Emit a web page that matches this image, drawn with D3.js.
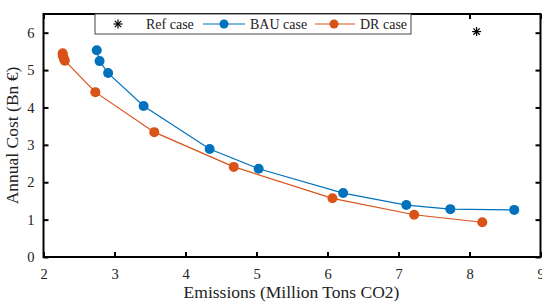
<!DOCTYPE html>
<html>
<head>
<meta charset="utf-8">
<script src="https://cdn.jsdelivr.net/npm/d3@7"></script>
<style>
  body { margin: 0; background: #fff; }
</style>
</head>
<body>
<div id="chart"></div>
<script>
// data
var bauX = [2.75, 2.79, 2.91, 3.41, 4.34, 5.03, 6.22, 7.11, 7.73, 8.63];
var bauY = [5.53, 5.24, 4.92, 4.04, 2.89, 2.36, 1.71, 1.39, 1.28, 1.26];
var drX = [2.27, 2.27, 2.28, 2.29, 2.30, 2.73, 3.56, 4.68, 6.07, 7.22, 8.18];
var drY = [5.45, 5.40, 5.35, 5.29, 5.25, 4.41, 3.34, 2.41, 1.57, 1.13, 0.93];
var refX = [8.1];
var refY = [6.03];
var xTicks = [2, 3, 4, 5, 6, 7, 8, 9];
var yTicks = [0, 1, 2, 3, 4, 5, 6];

var blue = "#0072BD";
var orange = "#D95319";
var serif = "Liberation Serif";

var width = 542, height = 302;
var mLeft = 43.5, mRight = 540.5, mTop = 14, mBottom = 257;

var svg = d3.select("#chart").append("svg")
    .attr("width", width)
    .attr("height", height);

var x = d3.scaleLinear().domain([2, 9]).range([mLeft, mRight]);
var y = d3.scaleLinear().domain([0, 6.5]).range([mBottom, mTop]);

// axes (ticks inside, box)
svg.append("g")
    .attr("transform", "translate(0," + mBottom + ")")
    .call(d3.axisBottom(x).tickValues(xTicks).tickSize(-5).tickPadding(12).tickFormat(d3.format("d")))
    .call(function (g) {
        g.attr("font-family", serif).attr("font-size", 14.5);
        g.select(".domain").remove();
        g.selectAll("line").attr("stroke-width", 2);
        g.selectAll("text").attr("fill", "#222");
    });
svg.append("g")
    .attr("transform", "translate(" + mLeft + ",0)")
    .call(d3.axisLeft(y).tickValues(yTicks).tickSize(-5).tickPadding(9).tickFormat(d3.format("d")))
    .call(function (g) {
        g.attr("font-family", serif).attr("font-size", 14.5);
        g.select(".domain").remove();
        g.selectAll("line").attr("stroke-width", 2);
        g.selectAll("text").attr("fill", "#222");
    });
// top / right ticks
svg.append("g")
    .attr("transform", "translate(0," + mTop + ")")
    .call(d3.axisTop(x).tickValues(xTicks).tickSize(-5).tickFormat(""))
    .call(function (g) { g.select(".domain").remove(); g.selectAll("line").attr("stroke-width", 2); });
svg.append("g")
    .attr("transform", "translate(" + mRight + ",0)")
    .call(d3.axisRight(y).tickValues(yTicks).tickSize(-5).tickFormat(""))
    .call(function (g) { g.select(".domain").remove(); g.selectAll("line").attr("stroke-width", 2); });

svg.append("rect")
    .attr("x", mLeft).attr("y", mTop)
    .attr("width", mRight - mLeft).attr("height", mBottom - mTop)
    .attr("fill", "none").attr("stroke", "#000").attr("stroke-width", 2);

// axis titles
svg.append("text")
    .attr("x", 291.5)
    .attr("y", 298)
    .attr("text-anchor", "middle")
    .attr("font-family", serif)
    .attr("font-size", 17.5)
    .attr("fill", "#222")
    .text("Emissions (Million Tons CO2)");
svg.append("text")
    .attr("transform", "translate(18," + ((mTop + mBottom) / 2) + ") rotate(-90)")
    .attr("text-anchor", "middle")
    .attr("font-family", serif)
    .attr("font-size", 17.5)
    .attr("fill", "#222")
    .text("Annual Cost (Bn €)");

// series
function drawSeries(xs, ys, color) {
    var pts = xs.map(function (d, i) { return [d, ys[i]]; });
    svg.append("path")
        .datum(pts)
        .attr("fill", "none")
        .attr("stroke", color)
        .attr("stroke-width", 1.2)
        .attr("d", d3.line().x(function (d) { return x(d[0]); }).y(function (d) { return y(d[1]); }));
    svg.append("g").selectAll("circle")
        .data(pts)
        .enter()
        .append("circle")
        .attr("cx", function (d) { return x(d[0]); })
        .attr("cy", function (d) { return y(d[1]); })
        .attr("r", 5)
        .attr("fill", color);
}
drawSeries(bauX, bauY, blue);
drawSeries(drX, drY, orange);

function star(g, cx, cy) {
    var r = 4.5;
    for (var k = 0; k < 4; k++) {
        var a = k * Math.PI / 4;
        g.append("line")
            .attr("x1", cx - r * Math.cos(a)).attr("y1", cy - r * Math.sin(a))
            .attr("x2", cx + r * Math.cos(a)).attr("y2", cy + r * Math.sin(a))
            .attr("stroke", "#000").attr("stroke-width", 1.2);
    }
}
refX.forEach(function (d, i) { star(svg, x(d), y(refY[i])); });

// legend
var leg = svg.append("g").attr("font-family", serif).attr("font-size", 14);
leg.append("rect")
    .attr("x", 95).attr("y", mTop).attr("width", 316).attr("height", 20)
    .attr("fill", "#fff").attr("stroke", "#444").attr("stroke-width", 1);
var ly = mTop + 10;
star(leg, 118, ly);
leg.append("text").attr("x", 146).attr("y", ly + 5).attr("fill", "#222").text("Ref case");
leg.append("line").attr("x1", 203).attr("x2", 245).attr("y1", ly).attr("y2", ly).attr("stroke", blue).attr("stroke-width", 1.2);
leg.append("circle").attr("cx", 224).attr("cy", ly).attr("r", 4.5).attr("fill", blue);
leg.append("text").attr("x", 250).attr("y", ly + 5).attr("fill", "#222").text("BAU case");
leg.append("line").attr("x1", 315).attr("x2", 355).attr("y1", ly).attr("y2", ly).attr("stroke", orange).attr("stroke-width", 1.2);
leg.append("circle").attr("cx", 334).attr("cy", ly).attr("r", 4.5).attr("fill", orange);
leg.append("text").attr("x", 360).attr("y", ly + 5).attr("fill", "#222").text("DR case");
</script>
</body>
</html>
